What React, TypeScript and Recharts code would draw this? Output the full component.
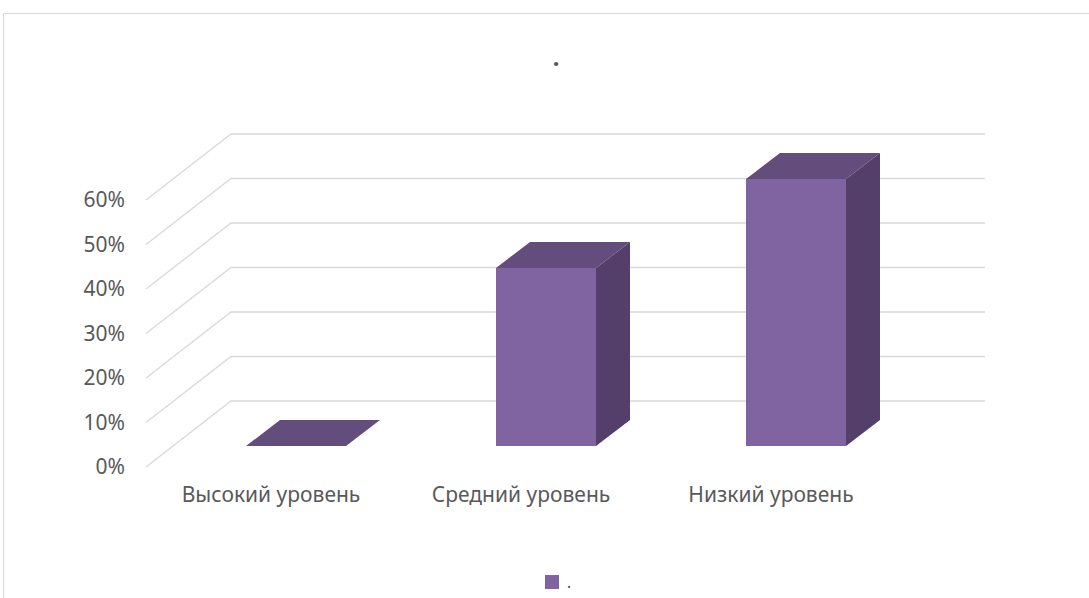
import React from 'react';
import { BarChart, Bar, XAxis, YAxis, CartesianGrid, Legend } from 'recharts';

const categories = ['Высокий уровень', 'Средний уровень', 'Низкий уровень'];
const levelValues = [0, 0.4, 0.6];
const seriesName = '.';
const yTicks = [0, 0.1, 0.2, 0.3, 0.4, 0.5, 0.6];

const chartData = categories.map((name, i) => ({ name, value: levelValues[i] }));

const FONT = "'Noto Sans', sans-serif";
const TEXT = '#595959';
const GRID = '#d9d9d9';

// depth of the whole "room" and of each box
const ROOM_DX = 85;
const ROOM_DY = -66;
const BOX_DX = 34;
const BOX_DY = -26;

const pct = (v: number) => `${Math.round(v * 100)}%`;

// grid line: front-left diagonal up to the back wall, then along the back wall
const gridLine = (props: any) => {
  const { x1, y1, x2, key } = props;
  const bx = x1 + ROOM_DX;
  const by = y1 + ROOM_DY;
  return (
    <polyline
      key={key}
      points={`${x1},${y1} ${bx},${by} ${x2 + ROOM_DX + 4},${by}`}
      fill="none"
      stroke={GRID}
      strokeWidth={1.3}
    />
  );
};

const Bar3D = (props: any) => {
  const { x, y, width, height } = props;
  const fx = x + 25;
  const fy = y - 21;
  const h = Math.max(height || 0, 0);
  const w = width;
  return (
    <g>
      {h > 0 && <rect x={fx} y={fy} width={w} height={h} fill="#8064A2" />}
      {h > 0 && (
        <polygon
          points={`${fx + w},${fy} ${fx + w + BOX_DX},${fy + BOX_DY} ${fx + w + BOX_DX},${fy + BOX_DY + h} ${fx + w},${fy + h}`}
          fill="#533F6A"
        />
      )}
      <polygon
        points={`${fx},${fy} ${fx + BOX_DX},${fy + BOX_DY} ${fx + w + BOX_DX},${fy + BOX_DY} ${fx + w},${fy}`}
        fill="#634D7C"
      />
    </g>
  );
};

const LegendContent = () => (
  <div style={{ display: 'flex', justifyContent: 'center', alignItems: 'flex-end', fontFamily: FONT, fontSize: 17, lineHeight: '18px', color: TEXT }}>
    <span style={{ width: 14, height: 14, background: '#8064A2', display: 'inline-block', marginRight: 8, marginBottom: 2 }} />
    <span>{seriesName}</span>
  </div>
);

export default function App() {
  return (
    <div style={{ position: 'absolute', left: 0, top: 0, width: 1089, height: 598, background: '#fff', overflow: 'hidden' }}>
      <div style={{ position: 'absolute', left: 3, top: 13, width: 1200, height: 700, border: '1px solid #d9d9d9' }} />
      <div style={{ position: 'absolute', left: 0, top: 40, width: 1112, textAlign: 'center', fontFamily: FONT, fontSize: 24, fontWeight: 'bold', color: TEXT }}>
        .
      </div>
      <BarChart
        width={1089}
        height={598}
        data={chartData}
        margin={{ top: 200, right: 193, left: 86, bottom: 101 }}
        barSize={100}
      >
        <CartesianGrid vertical={false} horizontal={gridLine} />
        <XAxis
          dataKey="name"
          height={30}
          axisLine={false}
          tickLine={false}
          tickMargin={14}
          tick={{ fill: TEXT, fontSize: 21, fontFamily: FONT }}
        />
        <YAxis
          width={60}
          domain={[0, 0.6]}
          ticks={yTicks}
          tickFormatter={pct}
          axisLine={false}
          tickLine={false}
          tickMargin={15}
          tick={{ fill: TEXT, fontSize: 21, fontFamily: FONT }}
        />
        <Legend
          verticalAlign="middle"
          align="center"
          content={<LegendContent />}
          wrapperStyle={{ top: 573, left: 0, width: 1116 }}
        />
        <Bar dataKey="value" name={seriesName} fill="#8064A2" shape={<Bar3D />} isAnimationActive={false} />
      </BarChart>
    </div>
  );
}
